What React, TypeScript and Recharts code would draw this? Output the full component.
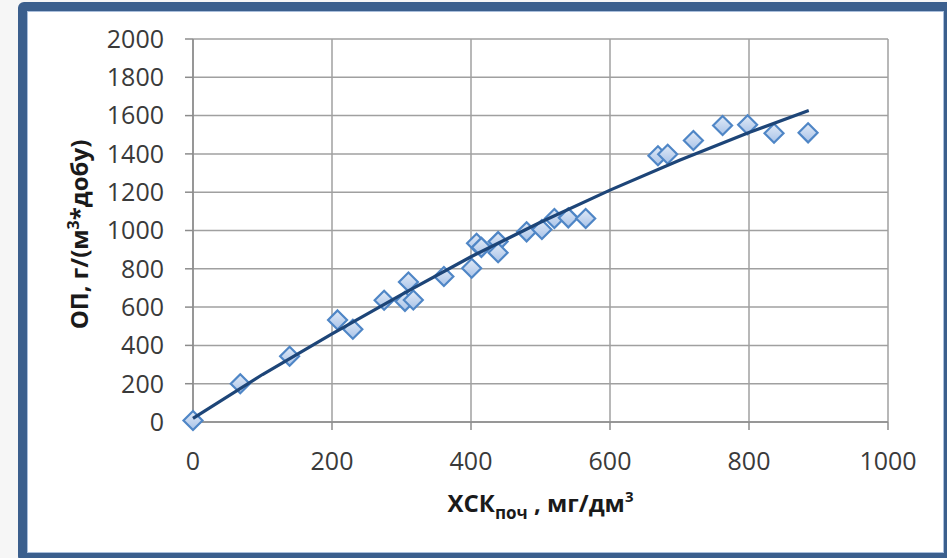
import React from 'react';
import { ScatterChart, Scatter, XAxis, YAxis, CartesianGrid } from 'recharts';

// Measured points (ХСК поч, мг/дм³ ; ОП, г/(м³*добу))
const xValues = [0, 68, 139, 208, 230, 275, 305, 310, 317, 361, 401, 408, 415, 439, 439, 480, 502, 520, 540, 565, 669, 683, 720, 762, 798, 836, 885];
const yValues = [8, 200, 343, 533, 484, 636, 630, 731, 637, 760, 803, 933, 912, 942, 884, 993, 1005, 1063, 1066, 1063, 1390, 1398, 1470, 1548, 1552, 1508, 1510];

// Trend line
const trendX = [0, 100, 200, 300, 400, 500, 600, 700, 800, 886];
const trendY = [19, 248, 460, 665, 863, 1043, 1211, 1367, 1512, 1626];

const xTicks = [0, 200, 400, 600, 800, 1000];
const yTicks = [0, 200, 400, 600, 800, 1000, 1200, 1400, 1600, 1800, 2000];

const points = xValues.map((x, i) => ({ x, y: yValues[i] }));
const trend = trendX.map((x, i) => ({ x, y: trendY[i] }));

const FONT = '"Open Sans", sans-serif';

const Diamond = (props: any) => {
  const { cx, cy } = props;
  if (cx == null || cy == null) return <g />;
  const r = 9.5;
  return (
    <polygon
      points={`${cx},${cy - r} ${cx + r},${cy} ${cx},${cy + r} ${cx - r},${cy}`}
      fill="url(#dmFill)"
      stroke="#4f86c6"
      strokeWidth={2.2}
    />
  );
};

const NoShape = () => <g />;

const YTitle = (props: any) => {
  const vb = props.viewBox || {};
  const cx = vb.x - 25;
  const cy = vb.y + vb.height / 2 + 4;
  return (
    <text
      x={cx}
      y={cy}
      transform={`rotate(-90 ${cx} ${cy})`}
      textAnchor="middle"
      fontFamily={FONT}
      fontWeight={700}
      fontSize={24}
      fill="#1a1a1a"
    >
      ОП, г/(м<tspan dy={-9} fontSize={16}>3</tspan>
      <tspan dy={9}>*добу)</tspan>
    </text>
  );
};

const XTitle = (props: any) => {
  const vb = props.viewBox || {};
  const cx = vb.x + vb.width / 2;
  const cy = vb.y + 90;
  return (
    <text x={cx} y={cy} textAnchor="middle" fontFamily={FONT} fontWeight={700} fontSize={24} fill="#1a1a1a">
      ХСК<tspan dy={7} fontSize={17}>поч</tspan>
      <tspan dy={-7}> , мг/дм</tspan>
      <tspan dy={-10} fontSize={15}>3</tspan>
    </text>
  );
};

export default function App() {
  return (
    <div style={{ position: 'absolute', left: 0, top: 0, width: 947, height: 558, overflow: 'hidden', background: '#f6f6f6' }}>
      <div
        style={{
          position: 'absolute',
          left: 18,
          top: 2,
          width: 917,
          height: 542,
          border: '9px solid #3b5f8d',
          borderRadius: 6,
          background: '#ffffff',
          boxShadow: 'inset 0 0 0 1px #a9bedb',
        }}
      />
      <div style={{ position: 'absolute', left: 0, top: 0 }}>
        <ScatterChart width={947} height={558} margin={{ top: 39, right: 59, bottom: 76, left: 113 }}>
          <defs>
            <linearGradient id="dmFill" x1="0" y1="0" x2="0" y2="1">
              <stop offset="0%" stopColor="#e1eaf7" />
              <stop offset="100%" stopColor="#a9c3e8" />
            </linearGradient>
          </defs>
          <CartesianGrid stroke="#a0a0a0" strokeWidth={1.5} />
          <XAxis
            type="number"
            dataKey="x"
            domain={[0, 1000]}
            ticks={xTicks}
            height={60}
            tickSize={8}
            tickMargin={22}
            stroke="#8c8c8c"
            strokeWidth={1.5}
            tick={{ fill: '#3a3a3a', fontSize: 25, fontFamily: FONT }}
            label={(p: any) => <XTitle {...p} />}
          />
          <YAxis
            type="number"
            dataKey="y"
            domain={[0, 2000]}
            ticks={yTicks}
            width={80}
            tickSize={8}
            tickMargin={21}
            stroke="#8c8c8c"
            strokeWidth={1.5}
            tick={{ fill: '#3a3a3a', fontSize: 25, fontFamily: FONT }}
            label={(p: any) => <YTitle {...p} />}
          />
          <Scatter data={points} shape={<Diamond />} isAnimationActive={false} />
          <Scatter
            data={trend}
            line={{ stroke: '#1d4578', strokeWidth: 3.2 }}
            shape={<NoShape />}
            isAnimationActive={false}
          />
        </ScatterChart>
      </div>
    </div>
  );
}
